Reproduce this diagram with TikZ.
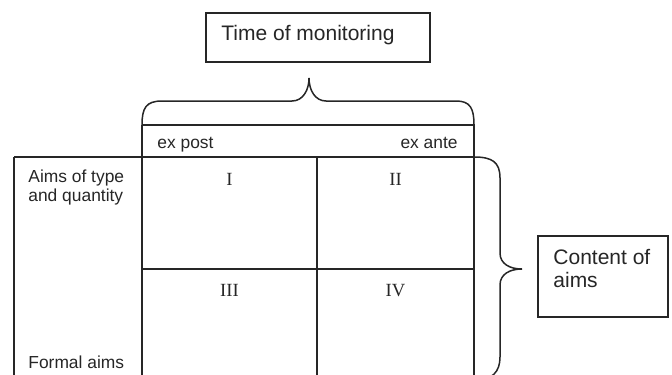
\documentclass[tikz,border=0pt]{standalone}
\usepackage{fontspec}
\setmainfont{Liberation Sans}
\newfontfamily\numfont{Liberation Serif}
\begin{document}
\begin{tikzpicture}[x=0.5pt,y=-0.5pt,
  line/.style={draw=black!85,line width=0.75pt},
  lbl/.style={inner sep=0pt,text=black!85,font=\fontsize{8.7pt}{9.5pt}\selectfont},
  big/.style={inner sep=0pt,text=black!85,font=\fontsize{10.5pt}{12pt}\selectfont},
  num/.style={inner sep=0pt,text=black!85,anchor=base,font=\numfont\fontsize{9.3pt}{10pt}\selectfont},
  box/.style={line,inner sep=0pt}]
\useasboundingbox (0,0) rectangle (672,374);
\clip (0,0) rectangle (672,374);
% top box
\node[box,minimum width=112pt,minimum height=24.5pt] (tbox) at (318,37.5) {};
\node[big,anchor=base west] (ttext) at (221,40) {Time of monitoring};
% right box
\node[box,minimum width=65pt,minimum height=40.5pt] (rbox) at (603,276.5) {};
\node[big,anchor=base west] (rtext1) at (553,264) {Content of};
\node[big,anchor=base west] (rtext2) at (553,287) {aims};
% grid coordinates
\coordinate (hl) at (142,125); \coordinate (hr) at (474,125);
\coordinate (bl) at (14,157);  \coordinate (br) at (474,157);
\coordinate (c1) at (142,157); \coordinate (cm) at (317,157);
\coordinate (ml) at (142,269); \coordinate (mr) at (474,269);
\coordinate (bot0) at (14,380); \coordinate (bot1) at (142,380);
\coordinate (bot2) at (317,380); \coordinate (bot3) at (474,380);
\draw[line] (hl) -- (hr);
\draw[line] (bl) -- (br);
\draw[line] (bl) -- (bot0);
\draw[line] (hl) -- (bot1);
\draw[line] (hr) -- (bot3);
\draw[line] (cm) -- (bot2);
\draw[line] (ml) -- (mr);
% top brace
\draw[line] (hl) .. controls (142,108) and (146,101) .. (162,101) -- (292,101)
  .. controls (303,101) and (309,90) .. (309,78)
  .. controls (309,90) and (315,101) .. (326,101) -- (456,101)
  .. controls (470,101) and (474,108) .. (hr);
% right brace
\draw[line] (br) .. controls (492,157) and (500,162) .. (500,178) -- (500,253)
  .. controls (500,264) and (510,269) .. (522,269)
  .. controls (510,269) and (500,274) .. (500,285) -- (500,357)
  .. controls (500,372) and (492,380) .. (476,380);
% header labels
\node[lbl,anchor=base west] (expost) at (157,148) {ex post};
\node[lbl,anchor=base east] (exante) at (458,148) {ex ante};
% row labels
\node[lbl,anchor=base west] (aims1) at (28,182) {Aims of type};
\node[lbl,anchor=base west] (aims2) at (28,201) {and quantity};
\node[lbl,anchor=base west] (formal) at (28,368) {Formal aims};
% numerals
\node[num] (n1) at (229.5,185) {I};
\node[num] (n2) at (395.5,185) {II};
\node[num] (n3) at (229.5,296) {III};
\node[num] (n4) at (395.5,296) {IV};
\end{tikzpicture}
\end{document}
